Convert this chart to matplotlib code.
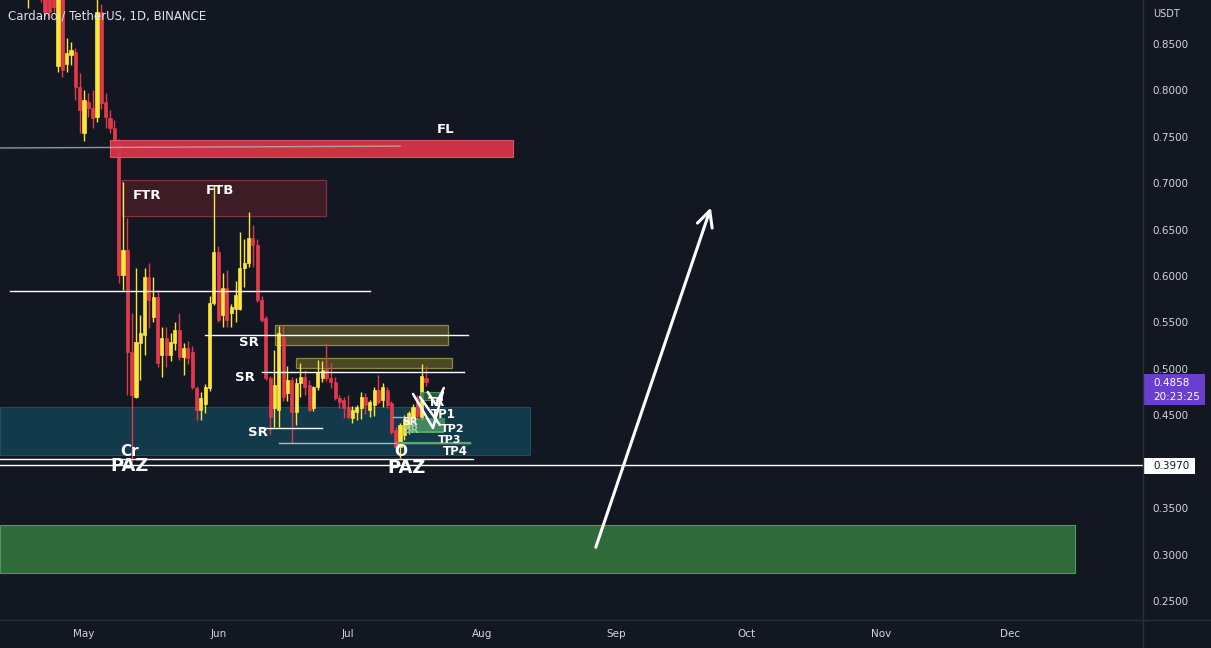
import numpy as np
import pandas as pd
import matplotlib
matplotlib.use("Agg")
import matplotlib.pyplot as plt
from matplotlib.patches import Rectangle
from matplotlib.lines import Line2D

# ---------------------------------------------------------------------------
# Daten: ADA/USDT Tageskerzen (ab 18. April 2022)
# ---------------------------------------------------------------------------
opens = [0.930, 0.945, 0.975, 0.950, 0.900, 0.905, 0.900, 0.826, 0.905, 0.828,
         0.838, 0.841, 0.804, 0.754, 0.787, 0.781, 0.771, 0.885, 0.787, 0.770,
         0.760, 0.743, 0.601, 0.628, 0.518, 0.470, 0.528, 0.537, 0.599, 0.556,
         0.577, 0.515, 0.533, 0.515, 0.528, 0.542, 0.513, 0.523, 0.518, 0.479,
         0.456, 0.462, 0.479, 0.571, 0.626, 0.558, 0.587, 0.560, 0.565, 0.565,
         0.609, 0.614, 0.641, 0.634, 0.574, 0.555, 0.490, 0.458, 0.456, 0.534,
         0.474, 0.488, 0.454, 0.485, 0.491, 0.483, 0.458, 0.480, 0.490, 0.500,
         0.490, 0.486, 0.469, 0.466, 0.459, 0.447, 0.454, 0.458, 0.470, 0.456,
         0.461, 0.477, 0.466, 0.477, 0.463, 0.434, 0.416, 0.429, 0.437, 0.445,
         0.469, 0.448, 0.490]
highs = [0.960, 0.990, 0.985, 0.955, 0.910, 0.915, 0.910, 0.915, 0.912, 0.856,
         0.852, 0.846, 0.819, 0.800, 0.797, 0.800, 0.900, 0.893, 0.797, 0.779,
         0.768, 0.748, 0.701, 0.663, 0.560, 0.609, 0.558, 0.609, 0.614, 0.599,
         0.585, 0.545, 0.545, 0.539, 0.550, 0.560, 0.528, 0.530, 0.525, 0.482,
         0.475, 0.484, 0.578, 0.698, 0.632, 0.603, 0.607, 0.570, 0.595, 0.647,
         0.640, 0.669, 0.655, 0.640, 0.579, 0.557, 0.492, 0.520, 0.546, 0.547,
         0.503, 0.491, 0.490, 0.506, 0.499, 0.488, 0.482, 0.510, 0.508, 0.528,
         0.506, 0.491, 0.472, 0.470, 0.472, 0.460, 0.461, 0.475, 0.474, 0.466,
         0.481, 0.493, 0.485, 0.481, 0.465, 0.437, 0.442, 0.450, 0.455, 0.462,
         0.472, 0.505, 0.503]
lows = [0.889, 0.935, 0.940, 0.895, 0.880, 0.878, 0.885, 0.820, 0.814, 0.820,
        0.827, 0.790, 0.754, 0.746, 0.771, 0.760, 0.766, 0.780, 0.760, 0.754,
        0.736, 0.592, 0.585, 0.472, 0.400, 0.469, 0.488, 0.515, 0.544, 0.550,
        0.502, 0.491, 0.502, 0.508, 0.520, 0.510, 0.493, 0.505, 0.478, 0.445,
        0.445, 0.452, 0.476, 0.569, 0.551, 0.545, 0.545, 0.545, 0.550, 0.563,
        0.588, 0.610, 0.610, 0.572, 0.551, 0.488, 0.430, 0.437, 0.437, 0.465,
        0.465, 0.420, 0.440, 0.470, 0.472, 0.455, 0.455, 0.477, 0.486, 0.487,
        0.479, 0.467, 0.458, 0.447, 0.446, 0.442, 0.445, 0.446, 0.451, 0.448,
        0.449, 0.462, 0.459, 0.458, 0.430, 0.410, 0.404, 0.423, 0.430, 0.440,
        0.445, 0.445, 0.482]
closes = [0.945, 0.975, 0.950, 0.900, 0.884, 0.885, 0.890, 0.905, 0.822, 0.840,
          0.844, 0.804, 0.779, 0.790, 0.781, 0.770, 0.885, 0.786, 0.771, 0.760,
          0.743, 0.601, 0.628, 0.518, 0.472, 0.529, 0.539, 0.599, 0.574, 0.577,
          0.506, 0.533, 0.515, 0.529, 0.542, 0.513, 0.522, 0.512, 0.480, 0.456,
          0.469, 0.480, 0.571, 0.626, 0.553, 0.587, 0.553, 0.567, 0.580, 0.609,
          0.614, 0.641, 0.634, 0.574, 0.553, 0.490, 0.448, 0.483, 0.539, 0.470,
          0.488, 0.454, 0.485, 0.491, 0.480, 0.456, 0.480, 0.497, 0.499, 0.490,
          0.486, 0.469, 0.464, 0.458, 0.448, 0.456, 0.459, 0.470, 0.461, 0.464,
          0.477, 0.464, 0.480, 0.461, 0.432, 0.416, 0.440, 0.446, 0.452, 0.459,
          0.449, 0.492, 0.4858]

# 0.40 wird vom Schild 0.3970 verdeckt
price_ticks = [0.25, 0.30, 0.35, 0.45, 0.50, 0.55, 0.60, 0.65, 0.70, 0.75, 0.80, 0.85]
month_starts = pd.date_range("2022-05-01", "2022-12-01", freq="MS")

BASE = pd.Timestamp("2022-05-01")
dates = pd.date_range("2022-04-18", periods=len(opens))
x = np.array((dates - BASE).days, dtype=float)
o = np.array(opens); h = np.array(highs); l = np.array(lows); c = np.array(closes)

# ---------------------------------------------------------------------------
# Farben
# ---------------------------------------------------------------------------
BG = "#131722"
UP = "#fbe43b"
DOWN = "#e23a4a"
TXT = "#d1d4dc"
GRID = "#2a2e39"

W, H = 1211, 648
fig = plt.figure(figsize=(W / 100, H / 100), dpi=100, facecolor=BG)
ax = fig.add_axes([0, 28 / H, 1143 / W, 620 / H], facecolor=BG)
ax.set_xlim(-19.4, 244.6)
ax.set_ylim(0.2295, 0.8974)

# Zonen
ax.add_patch(Rectangle((-19.4, 0.4073), 122.4, 0.0517, fc="#123a4a", ec="#1d4f5f", lw=0.8, zorder=1))
ax.add_patch(Rectangle((-19.4, 0.2801), 248.3, 0.0517, fc="#2f6a3a", ec="#4b9a57", lw=0.8, zorder=1))
ax.add_patch(Rectangle((8.8, 0.6647), 47.1, 0.0388, fc="#3d1c26", ec="#84313f", lw=0.9, zorder=1))
ax.add_patch(Rectangle((44.1, 0.5258), 40.0, 0.0215, fc="#4b4828", ec="#8c8a3b", lw=0.9, zorder=1))
ax.add_patch(Rectangle((49.0, 0.5010), 36.0, 0.0108, fc="#4b4828", ec="#8c8a3b", lw=0.9, zorder=1))

# Kerzen
up = c >= o
col = np.where(up, UP, DOWN)
ax.vlines(x, l, h, colors=col, lw=1.0, zorder=3)
ax.bar(x, np.maximum(np.abs(c - o), 0.0015), bottom=np.minimum(o, c), width=0.72,
       color=col, edgecolor=col, lw=0.5, zorder=3)

# FL-Zone (liegt über den Kerzen)
ax.add_patch(Rectangle((6.0, 0.7283), 93.1, 0.0183, fc="#d63548", ec="#e5566a", lw=0.8, alpha=0.95, zorder=4))
ax.plot([-19.4, 73], [0.738, 0.740], color="#b2b5be", lw=1.0, alpha=0.8, zorder=5)

# Linien
wl = dict(color="white", lw=1.0, zorder=5)
ax.plot([-17.1, 66.1], [0.584, 0.584], **wl)
ax.plot([27.9, 88.7], [0.5365, 0.5365], **wl)
ax.plot([41.1, 87.8], [0.4967, 0.4967], **wl)
ax.plot([41.1, 55.0], [0.4363, 0.4363], **wl)
ax.plot([45.0, 89.1], [0.420, 0.420], color="#b2b5be", lw=1.0, zorder=5)
ax.plot([-19.4, 89.8], [0.403, 0.403], **wl)
ax.axhline(0.397, color="white", lw=1.0, zorder=5)

# TP-Zeichnung
ax.plot([71.4, 75.3], [0.448, 0.448], color="#8ab4d8", lw=1.0, zorder=6)
ax.add_patch(Rectangle((75.4, 0.432), 8.0, 0.015, fc="#5aa867", ec="none", alpha=0.7, zorder=6))
ax.add_patch(Rectangle((77.6, 0.466), 4.5, 0.009, fc="#2f6a3a", ec="#5aa867", lw=0.8, alpha=0.8, zorder=6))
ax.plot([72.6, 89.1], [0.420, 0.420], color="#5aa867", lw=1.6, zorder=6)
ax.plot([75.4, 83.0], [0.4315, 0.4315], color="#5aa867", lw=1.4, zorder=6)
sk = dict(color="white", lw=1.8, zorder=7, solid_capstyle="round")
ax.plot([76.0, 80.6, 82.9], [0.4730, 0.4363, 0.4751], **sk)
ax.plot([79.4, 81.3, 83.1], [0.4751, 0.4611, 0.4794], **sk)
ax.plot([77.6, 82.2], [0.4697, 0.4396], **sk)

# Pfeil
ax.annotate("", xy=(145.0, 0.6766), xytext=(118.0, 0.305),
            arrowprops=dict(arrowstyle="->", color="white", lw=2.2, mutation_scale=28), zorder=8)

# Beschriftungen
lab = dict(color="white", fontweight="bold", ha="center", va="center", zorder=9)
ax.text(83.4, 0.7574, "FL", fontsize=9.5, **lab)
ax.text(14.5, 0.6863, "FTR", fontsize=9.5, **lab)
ax.text(31.4, 0.6927, "FTB", fontsize=9.5, **lab)
ax.text(38.1, 0.528, "SR", fontsize=9.5, **lab)
ax.text(37.2, 0.4902, "SR", fontsize=9.5, **lab)
ax.text(40.2, 0.431, "SR", fontsize=9.5, **lab)
ax.text(10.6, 0.3950, "PAZ", fontsize=13, **lab)
ax.text(74.6, 0.3928, "PAZ", fontsize=13, **lab)
ax.text(10.6, 0.4115, "Cr", fontsize=11, **lab)
ax.text(73.2, 0.4105, "O", fontsize=11, **lab)
ax.text(75.2, 0.4423, "SR", fontsize=7.5, color="white", fontweight="bold", ha="center", va="center", zorder=9)
ax.text(75.6, 0.4340, "SR", fontsize=7.5, color="#8fd19e", fontweight="bold", ha="center", va="center", zorder=9)
ax.text(81.5, 0.4633, "TR", fontsize=8.5, **lab)
ax.text(82.9, 0.4514, "TP1", fontsize=8.5, **lab)
ax.text(85.2, 0.4355, "TP2", fontsize=8, **lab)
ax.text(84.5, 0.4235, "TP3", fontsize=8, **lab)
ax.text(85.7, 0.4105, "TP4", fontsize=8.5, **lab)

# Achsen
for s in ax.spines.values():
    s.set_visible(False)
ax.yaxis.tick_right()
ax.set_yticks(price_ticks)
ax.set_yticklabels([f"{v:.4f}" for v in price_ticks])
ax.set_xticks((month_starts - BASE).days)
ax.set_xticklabels(month_starts.strftime("%b"))
ax.tick_params(axis="y", length=0, pad=7, labelsize=7.5, labelcolor=TXT)
ax.tick_params(axis="x", length=0, pad=6.5, labelsize=7.5, labelcolor=TXT)

fig.add_artist(Line2D([1143 / W, 1143 / W], [0, 1], color=GRID, lw=1))
fig.add_artist(Line2D([0, 1], [28 / H, 28 / H], color=GRID, lw=1))

fig.text(8 / W, 1 - 16 / H, "Cardano / TetherUS, 1D, BINANCE", color="#e0e3eb", fontsize=8.5, va="center")
fig.text(1153 / W, 1 - 14 / H, "USDT", color=TXT, fontsize=7, va="center")

# Preisschilder
fig.add_artist(Rectangle((1143 / W, 1 - 405 / H), 62 / W, 31 / H, transform=fig.transFigure, fc="#6a3fcf", ec="none"))
fig.text(1153 / W, 1 - 383 / H, "0.4858", color="white", fontsize=7.5, va="center")
fig.text(1153 / W, 1 - 397 / H, "20:23:25", color="white", fontsize=7.5, va="center")
fig.add_artist(Rectangle((1144 / W, 1 - 474 / H), 51 / W, 16 / H, transform=fig.transFigure, fc="white", ec="none"))
fig.text(1153 / W, 1 - 466 / H, "0.3970", color="#131722", fontsize=7.5, va="center")

fig.savefig("out.png", dpi=100, facecolor=BG)
